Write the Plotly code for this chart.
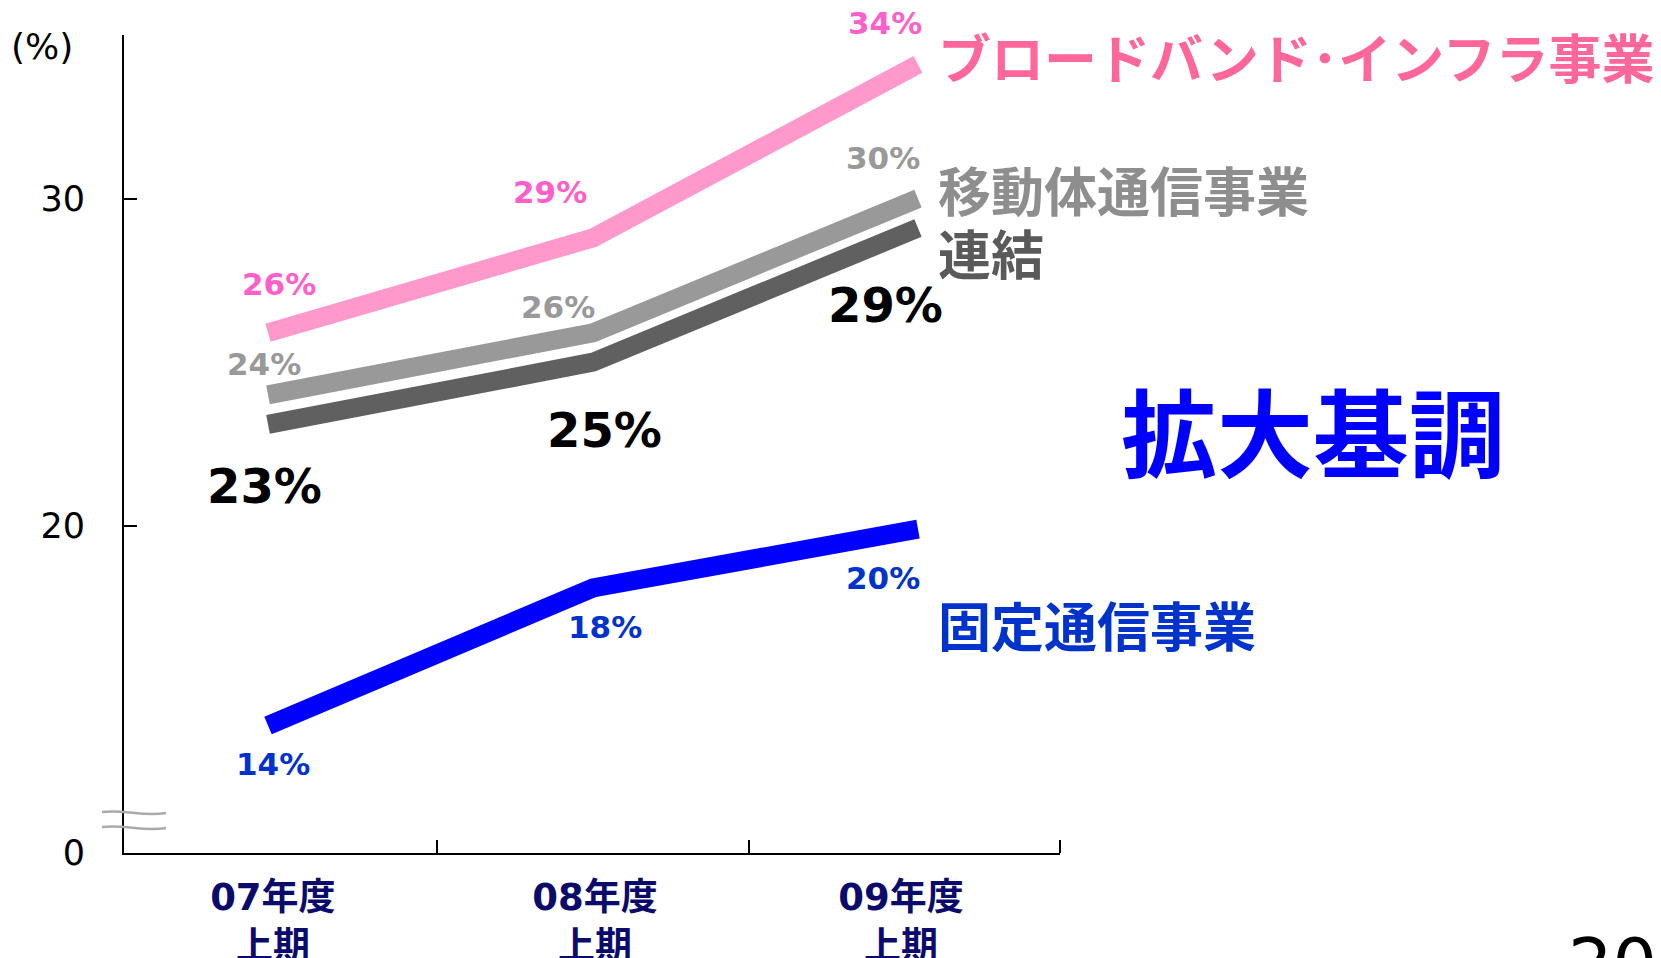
import plotly.graph_objects as go

# ---- data ----
periods = ["07年度<br>上期", "08年度<br>上期", "09年度<br>上期"]
x_pos = [0, 1, 2]
broadband = [25.9, 28.8, 34.1]
mobile = [24.0, 25.9, 30.0]
consolidated = [23.1, 25.0, 29.1]
fixed = [13.9, 18.1, 19.9]
series_names = ["ブロードバンド･インフラ事業", "移動体通信事業", "連結", "固定通信事業"]
y_tickvals = [10, 20, 30]
y_ticktext = ["0", "20", "30"]
headline = "拡大基調"
unit_label = "(%)"
page_no = "20"

# ---- layout constants (screen pixels; page body has an 8px margin) ----
OFF = 8
W, H = 1661 - OFF, 958 - OFF
L, R, T, B = 124, 1060, 35, 853          # plot area in screen pixels
label_x = [0.015, 1.006, 1.948]           # category label positions on x axis

def px(xs):
    return (xs - L) / (R - L)

def py(ys):
    return (B - ys) / (B - T)

LAT = "DejaVu Sans"
CJK = "Noto Sans CJK JP"

series = [
    (broadband, "#FF99CC", "#FF5FC8", 31, [(11, -49), (-43, -46), (-33, -41)]),
    (mobile, "#999999", "#999999", 31, [(-4, -31), (-35, -26), (-35, -41)]),
    (consolidated, "#606060", "#000000", 48, [(-4, 62), (11, 68), (-33, 77)]),
    (fixed, "#0000FF", "#0033CC", 31, [(5, 39), (12, 39), (-35, 49)]),
]

fig = go.Figure()
annotations = []
for vals, lc, tc, fs, offs in series:
    fig.add_trace(go.Scatter(x=x_pos, y=vals, mode="lines",
                             line=dict(color=lc, width=19),
                             hoverinfo="skip", showlegend=False))
    for xi, v, (dx, dy) in zip(x_pos, vals, offs):
        annotations.append(dict(x=xi, y=v, xref="x", yref="y",
                                text="<b>%d%%</b>" % round(v), showarrow=False,
                                xshift=dx, yshift=-dy,
                                font=dict(family=LAT, size=fs, color=tc)))

# series titles
title_specs = [
    (series_names[0], "#FF6699", 56),
    (series_names[1], "#8E8E8E", 189),
    (series_names[2], "#5A5A5A", 252),
    (series_names[3], "#0033CC", 624),
]
for txt, col, yc in title_specs:
    annotations.append(dict(x=px(936), y=py(yc), xref="paper", yref="paper",
                            xanchor="left", yanchor="middle", showarrow=False,
                            text="<b>%s</b>" % txt,
                            font=dict(family=CJK, size=53, color=col)))

annotations.append(dict(x=px(1119), y=py(428), xref="paper", yref="paper",
                        xanchor="left", yanchor="middle", showarrow=False,
                        text="<b>%s</b>" % headline,
                        font=dict(family=CJK, size=96, color="#0000FF")))

annotations.append(dict(x=px(42), y=py(47), xref="paper", yref="paper",
                        xanchor="center", yanchor="middle", showarrow=False,
                        text=unit_label,
                        font=dict(family=LAT, size=36, color="#000000")))

annotations.append(dict(x=px(1566), y=py(921), xref="paper", yref="paper",
                        xanchor="left", yanchor="top", showarrow=False,
                        text=page_no,
                        font=dict(family=LAT, size=70, color="#000000")))

# axis break marks
def wave(y0):
    pts = [(102, y0), (125, y0 - 3), (142, y0 + 5), (166, y0 + 1)]
    (a, b), (c, d), (e, f), (g, h) = [(px(x), py(y)) for x, y in pts]
    return "M %f,%f C %f,%f %f,%f %f,%f" % (a, b, c, d, e, f, g, h)

shapes = []
for y0 in (812, 827):
    shapes.append(dict(type="path", path=wave(y0), xref="paper", yref="paper",
                       line=dict(color="#AAAAAA", width=2.5)))

fig.update_layout(
    width=W, height=H,
    margin=dict(l=L - OFF, r=W - (R - OFF), t=T - OFF, b=H - (B - OFF),
                pad=0, autoexpand=False),
    paper_bgcolor="white", plot_bgcolor="white",
    annotations=annotations, shapes=shapes,
    xaxis=dict(range=[(L - 268) / 325, (R - 268) / 325],
               tickvals=label_x, ticktext=periods, automargin=False,
               ticks="", showgrid=False, zeroline=False,
               showline=True, linecolor="#000000", linewidth=2,
               tickfont=dict(family=LAT + ", " + CJK, size=37, color="#0B0B6B",
                             weight="bold"),
               ticklabelstandoff=11,
               minor=dict(tickvals=[0.52, 1.48, 2.436], ticks="inside",
                          ticklen=13, tickwidth=2, tickcolor="#000000",
                          showgrid=False)),
    yaxis=dict(range=[10, 35], tickvals=y_tickvals, ticktext=y_ticktext,
               automargin=False,
               ticks="inside", ticklen=13, tickwidth=2, tickcolor="#000000",
               showgrid=False, zeroline=False,
               showline=True, linecolor="#000000", linewidth=2,
               tickfont=dict(family=LAT, size=35, color="#000000"),
               ticklabelstandoff=30),
)

fig.write_html("out.html")
